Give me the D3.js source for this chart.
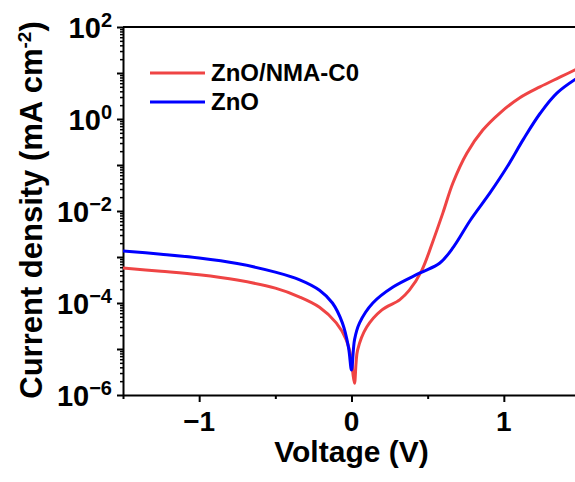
<!DOCTYPE html>
<html>
<head>
<meta charset="utf-8">
<script src="https://d3js.org/d3.v7.min.js"></script>
<style>
  body { margin: 0; background: #fff; }
  text { font-family: "Liberation Sans", Arial, sans-serif; font-weight: bold; fill: #000; }
</style>
</head>
<body>
<div id="chart"></div>
<script>
// J-V data, current density in mA cm^-2
const voltsNMA = [-1.5, -1.25, -1.0, -0.75, -0.5, -0.34, -0.21, -0.1, -0.035, 0.0, 0.01, 0.02, 0.03, 0.04, 0.1, 0.2, 0.316, 0.38, 0.46, 0.53, 0.6, 0.665, 0.757, 0.862, 0.974, 1.105, 1.237, 1.368, 1.5];
const currentNMA = [5.75e-4, 4.9e-4, 4.1e-4, 3.15e-4, 2.1e-4, 1.35e-4, 8.1e-5, 3.7e-5, 1.6e-5, 5.8e-6, 2.8e-6, 1.8e-6, 5.0e-6, 9.5e-6, 3.0e-5, 7.1e-5, 1.17e-4, 1.9e-4, 5.0e-4, 2.0e-3, 9.1e-3, 4.0e-2, 0.18, 0.575, 1.35, 2.9, 5.0, 8.1, 13.2];

const voltsZnO = [-1.5, -1.25, -1.0, -0.75, -0.5, -0.34, -0.21, -0.125, -0.06, -0.02, 0.0, 0.02, 0.053, 0.14, 0.27, 0.45, 0.58, 0.67, 0.78, 0.91, 1.02, 1.13, 1.24, 1.35, 1.5];
const currentZnO = [1.35e-3, 1.15e-3, 9.5e-4, 7.2e-4, 4.7e-4, 3.2e-4, 1.9e-4, 1.0e-4, 3.7e-5, 1.1e-5, 3.5e-6, 1.6e-5, 3.7e-5, 1.0e-4, 2.2e-4, 4.5e-4, 7.4e-4, 1.66e-3, 6.3e-3, 2.5e-2, 8.9e-2, 0.37, 1.35, 3.7, 8.5];

const seriesNames = ["ZnO/NMA-C0", "ZnO"];
const seriesColors = ["#ef4444", "#0000ff"];

const xMajor = [-1, 0, 1];
const xMinor = [-1.5, -0.5, 0.5, 1.5];
const yLabelExps = [2, 0, -2, -4, -6];

const W = 575, H = 482;
const margin = {top: 27, right: -5, bottom: 87, left: 123};
const width = W - margin.left - margin.right,
      height = H - margin.top - margin.bottom;

const svg = d3.select("#chart").append("svg")
  .attr("width", W).attr("height", H);

const x = d3.scaleLinear().domain([-1.5, 1.5]).range([margin.left, margin.left + width]);
const y = d3.scaleLog().domain([1e-6, 1e2]).range([margin.top + height, margin.top]);

svg.append("clipPath").attr("id", "clip")
  .append("rect")
  .attr("x", margin.left).attr("y", margin.top)
  .attr("width", width).attr("height", height);

// frame top line
svg.append("line")
  .attr("x1", margin.left).attr("x2", margin.left + width)
  .attr("y1", margin.top).attr("y2", margin.top)
  .attr("stroke", "#000").attr("stroke-width", 2);

// y minor ticks (2..9 of each decade)
const yMinorVals = [];
for (let e = -6; e < 2; e++) for (let k = 2; k <= 9; k++) yMinorVals.push(k * Math.pow(10, e));
const yDecades = d3.range(-6, 3).map(e => Math.pow(10, e));

const yMinorAxis = svg.append("g")
  .attr("transform", `translate(${margin.left},0)`)
  .call(d3.axisLeft(y).tickValues(yMinorVals).tickSize(3).tickFormat(""));
yMinorAxis.select(".domain").remove();
yMinorAxis.selectAll("line").attr("stroke-width", 1.5);

const yAxis = svg.append("g")
  .attr("transform", `translate(${margin.left},0)`)
  .call(d3.axisLeft(y).tickValues(yDecades).tickSize(6).tickSizeOuter(0).tickFormat(""));
yAxis.select(".domain").attr("stroke-width", 2);
yAxis.selectAll("line").attr("stroke-width", 2);

// x ticks
const xMinorAxis = svg.append("g")
  .attr("transform", `translate(0,${margin.top + height})`)
  .call(d3.axisBottom(x).tickValues(xMinor).tickSize(4).tickFormat(""));
xMinorAxis.select(".domain").remove();
xMinorAxis.selectAll("line").attr("stroke-width", 2);

const xAxis = svg.append("g")
  .attr("transform", `translate(0,${margin.top + height})`)
  .call(d3.axisBottom(x).tickValues(xMajor).tickSize(7).tickSizeOuter(0).tickFormat(""));
xAxis.select(".domain").attr("stroke-width", 2);
xAxis.selectAll("line").attr("stroke-width", 2);

// x tick labels
svg.selectAll(".xlab").data(xMajor).join("text")
  .attr("class", "xlab")
  .attr("x", d => x(d))
  .attr("y", margin.top + height + 36)
  .attr("text-anchor", "middle")
  .style("font-size", "28px")
  .text(d => d < 0 ? "\u2212" + Math.abs(d) : d);

// y tick labels 10^n
const ylab = svg.selectAll(".ylab").data(yLabelExps).join("text")
  .attr("class", "ylab")
  .attr("x", 112)
  .attr("y", d => y(Math.pow(10, d)) + 11)
  .attr("text-anchor", "end")
  .style("font-size", "29px");
ylab.append("tspan").text("10");
ylab.append("tspan")
  .attr("dy", -11)
  .style("font-size", "20px")
  .text(d => d < 0 ? "\u2212" + Math.abs(d) : d);

// axis titles
svg.append("text")
  .attr("x", (x.range()[0] + x.range()[1]) / 2)
  .attr("y", 462)
  .attr("text-anchor", "middle")
  .style("font-size", "30px")
  .text("Voltage (V)");

const yt = svg.append("text")
  .attr("transform", `translate(42,${margin.top + height / 2 - 1}) rotate(-90)`)
  .attr("text-anchor", "middle")
  .style("font-size", "31px");
yt.append("tspan").text("Current density (mA cm");
yt.append("tspan").attr("dy", -11).style("font-size", "19px").text("-2");
yt.append("tspan").attr("dy", 11).text(")");

// curves
const line = d3.line()
  .x(d => x(d[0]))
  .y(d => y(d[1]))
  .curve(d3.curveCatmullRom.alpha(0.5));

const seriesData = [
  d3.zip(voltsNMA, currentNMA),
  d3.zip(voltsZnO, currentZnO)
];

svg.append("g").attr("clip-path", "url(#clip)")
  .selectAll("path").data(seriesData).join("path")
  .attr("d", line)
  .attr("fill", "none")
  .attr("stroke", (d, i) => seriesColors[i])
  .attr("stroke-width", 3)
  .attr("stroke-linejoin", "round");

// legend
const legend = svg.append("g");
seriesNames.forEach((name, i) => {
  const ly = 73 + i * 29;
  legend.append("line")
    .attr("x1", 150).attr("x2", 205)
    .attr("y1", ly).attr("y2", ly)
    .attr("stroke", seriesColors[i]).attr("stroke-width", 3);
  legend.append("text")
    .attr("x", 211).attr("y", ly + 8)
    .style("font-size", "24px")
    .text(name);
});
</script>
</body>
</html>
